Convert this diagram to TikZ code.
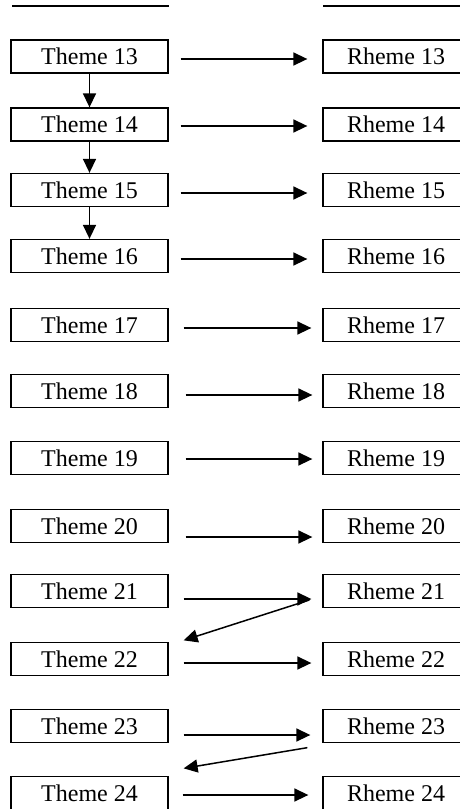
\documentclass[tikz,border=0pt]{standalone}
\usepackage{fontspec}
\setmainfont{Liberation Serif}
\usetikzlibrary{arrows.meta}
\begin{document}
\begin{tikzpicture}[x=1pt,y=-1pt,
  box/.style={draw, line width=1.3pt, minimum height=33pt, inner sep=0pt,
              font=\fontsize{24}{26}\selectfont},
  tbox/.style={box, minimum width=157pt},
  rbox/.style={box, minimum width=146pt},
  link/.style={line width=1.5pt, -{Triangle[length=14pt,width=13pt]}},
  rule/.style={line width=1.3pt}]
\path[use as bounding box, clip] (0,0) rectangle (460,809);

% header rules
\coordinate (la) at (12,6);  \coordinate (lb) at (169,6);
\coordinate (ra) at (323,6); \coordinate (rb) at (470,6);
\draw[rule] (la) -- (lb);
\draw[rule] (ra) -- (rb);

% theme and rheme boxes
\foreach \n/\y in {13/56.5,14/124.5,15/190,16/256,17/325,18/391,
                   19/458,20/526,21/591,22/659,23/726,24/793}{
  \node[tbox] (T\n) at (89.5,\y) {Theme \n};
  \node[rbox] (R\n) at (396,\y) {Rheme \n};
}

% theme progression down the left column
\draw[link] (T13.south) -- (T14.north);
\draw[link] (T14.south) -- (T15.north);
\draw[link] (T15.south) -- (T16.north);

% theme to rheme
\foreach \n/\dy/\a/\b in {13/2.5/12/15,14/1.5/12/15,15/3/12/15,16/3/12/15,
                          17/3/15/11,18/4/17/10,19/1/17/10,20/11/17/10,
                          21/8/15/11,22/4/15/11,23/9/15/12,24/2/14/14}{
  \draw[link] ([xshift=\a pt,yshift=-\dy pt]T\n.east)
           -- ([xshift=-\b pt,yshift=-\dy pt]R\n.west);
}

% rheme feeding the next theme
\draw[link] ([xshift=-13pt,yshift=-9pt]R21.west) -- ([xshift=15pt,yshift=1.5pt]T22.north east);
\draw[link] ([xshift=-15pt,yshift=-4.5pt]R23.south west) -- ([xshift=15pt,yshift=7.5pt]T24.north east);
\end{tikzpicture}
\end{document}
